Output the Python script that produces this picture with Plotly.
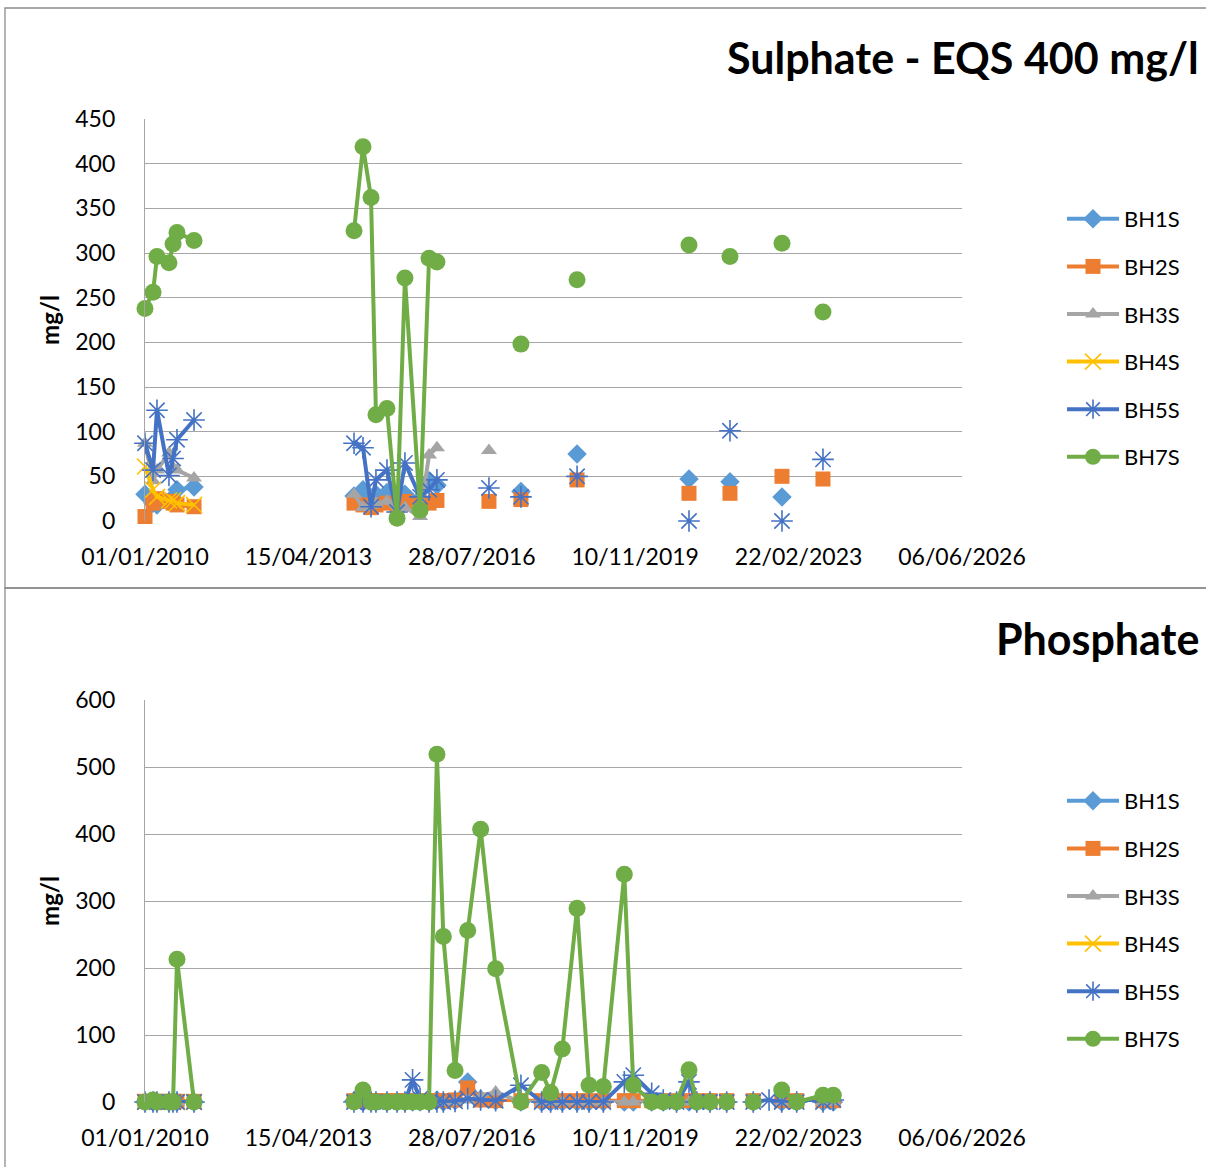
import plotly.graph_objects as go

# ---------------- DATA ----------------
series_names = ["BH1S", "BH2S", "BH3S", "BH4S", "BH5S", "BH7S"]

# Sulphate (blank rows -> None break the lines, as in the source sheet)
sulphate_dates = [
    "2010-01-01", "2010-03-01", "2010-03-30", "2010-06-26", "2010-07-26", "2010-08-24", "2010-12-27",
    "2012-01-01",
    "2014-03-16", "2014-05-21", "2014-07-19", "2014-08-24", "2014-11-13", "2015-01-26", "2015-03-25",
    "2015-07-14", "2015-09-18", "2015-11-15",
    "2016-06-01", "2016-12-01", "2017-03-15", "2017-07-24", "2018-02-01", "2018-09-09",
    "2019-10-01", "2020-12-09", "2021-05-01", "2021-10-06", "2022-04-01", "2022-10-23",
    "2023-03-01", "2023-08-20",
]
sulphate_bh1s = [30, 20, 18, 22, 25, 35, 38, None,
                 28, 35, 25, 30, 32, 20, 30, 25, 45, 40,
                 None, None, None, 33, None, 75, None, 47, None, 44, None, 27, None, None]
sulphate_bh2s = [5, 20, 25, 22, 20, 18, 16, None,
                 20, 18, 15, 18, 20, 17, 22, 18, 20, 23,
                 None, 22, None, 24, None, 46, None, 31, None, 31, None, 50, None, 47]
sulphate_bh3s = [87, 45, 57, 76, 60, 57, 48, None,
                 30, 15, 18, 20, 22, 10, 15, 5, 74, 82,
                 None, 79, None, None, None, None, None, None, None, None, None, None, None, None]
sulphate_bh4s = [61, 35, 27, 23, 23, 20, 18, None,
                 None, None, None, None, None, None, None, None, None, None,
                 None, None, None, None, None, None, None, None, None, None, None, None, None, None]
sulphate_bh5s = [87, 57, 124, 51, 70, 91, 113, None,
                 87, 82, 16, 46, 57, 10, 65, 27, 35, 46,
                 None, 37, None, 27, None, 50, None, 0, None, 101, None, 0, None, 69]
sulphate_bh7s = [238, 256, 296, 289, 310, 323, 314, None,
                 325, 419, 362, 119, 126, 3, 272, 12, 294, 290,
                 None, None, None, 198, None, 270, None, 309, None, 296, None, 311, None, 234]

# Phosphate
phosphate_dates = [
    "2010-01-01", "2010-03-01", "2010-03-30", "2010-06-26", "2010-07-26", "2010-08-24", "2010-12-27",
    "2012-01-01",
    "2014-03-16", "2014-05-21", "2014-07-19", "2014-08-24", "2014-11-13", "2015-01-26", "2015-03-25",
    "2015-05-20", "2015-07-14", "2015-09-18", "2015-11-15",
    "2016-01-01", "2016-03-27", "2016-06-28", "2016-10-01", "2017-01-19", "2017-07-24", "2017-12-23",
    "2018-02-27", "2018-05-24", "2018-09-09", "2018-12-06", "2019-03-21", "2019-08-22", "2019-10-27",
    "2020-03-10", "2020-06-03", "2020-09-09", "2020-12-09", "2021-02-04", "2021-05-12", "2021-09-12",
    "2021-12-31", "2022-03-26", "2022-07-20", "2022-10-21", "2023-02-08", "2023-08-20", "2023-11-04",
]
phosphate_bh1s = [0, 0, 0, 0, 0, 0, 0, None,
                  2, 0, 0, 0, 0, 0, 0, 0, 0, 0, 3,
                  0, 2, 30, 4, 2, 0, 0, 0, 0, 0, 0, 0, 0, 0,
                  0, 0, 0, 0, 0, 0, 0, None, 0, None, 0, 0, 0, 0]
phosphate_bh2s = [1, 1, 1, 1, 1, 1, 1, None,
                  2, 2, 2, 2, 2, 2, 2, 2, 2, 2, 2,
                  2, 3, 21, 3, 2, 2, 2, 2, 2, 2, 2, 2, 2, 2,
                  2, 2, 2, 2, 2, 2, 2, None, 2, None, 2, 2, 2, 2]
phosphate_bh3s = [0, 0, 0, 0, 0, 0, 0, None,
                  1, 0, 0, 0, 0, 0, 0, 0, 0, 0, 0,
                  0, 0, 3, 8, 15, 0, 0, 0, 0, 0, 0, 0, 0, 0,
                  0, 0, 0, 0, 0, 0, 0, None, 0, None, 0, 0, 0, 0]
phosphate_bh4s = [0, 0, 0, 0, 0, 0, 0, None,
                  None, None, None, None, None, None, None, None, None, None, None,
                  None, None, None, None, None, None, None, None, None, None, None, None, None, None,
                  None, None, None, None, None, None, None, None, None, None, None, None, None, None]
phosphate_bh5s = [0, 0, 0, 0, 0, 0, 0, None,
                  0, 0, 0, 0, 0, 0, 0, 33, 5, 0, 0,
                  0, 1, 5, 3, 2, 25, 0, 0, 0, 0, 0, 0, 30, 40,
                  13, 3, 0, 30, 0, 0, 0, None, 0, 3, 0, 0, 0, 3]
phosphate_bh7s = [0, 3, 0, 0, 0, 213, 0, None,
                  0, 18, 0, 0, 0, 0, 0, 0, 0, 0, 519,
                  247, 47, 256, 407, 199, 0, 44, 14, 79, 289, 25, 23, 340, 25,
                  0, 0, 0, 48, 0, 0, 0, None, 0, None, 18, 0, 10, 10]

x_tick_values = ["2010-01-01", "2013-04-15", "2016-07-28", "2019-11-10", "2023-02-22", "2026-06-06"]
x_tick_labels = ["01/01/2010", "15/04/2013", "28/07/2016", "10/11/2019", "22/02/2023", "06/06/2026"]

sulphate_title = "Sulphate - EQS 400 mg/l"
phosphate_title = "Phosphate"
y_title = "mg/l"

# ---------------- STYLE ----------------
W, H = 1206, 1167
FONT = "Lato"
colors = ["#5B9BD5", "#ED7D31", "#A5A5A5", "#FFC000", "#4472C4", "#70AD47"]
symbols = ["diamond", "square", "triangle-up", "x-thin-open", "asterisk-open", "circle"]
sizes = [15, 15, 14, 16, 18, 17]
GRID = "#A6A6A6"

def px(x):
    return x / W

def py(y):
    return 1 - y / H

fig = go.Figure()

sul = [sulphate_bh1s, sulphate_bh2s, sulphate_bh3s, sulphate_bh4s, sulphate_bh5s, sulphate_bh7s]
pho = [phosphate_bh1s, phosphate_bh2s, phosphate_bh3s, phosphate_bh4s, phosphate_bh5s, phosphate_bh7s]

for (dates, data, xa, ya, lg) in [
    (sulphate_dates, sul, "x", "y", "legend"),
    (phosphate_dates, pho, "x2", "y2", "legend2"),
]:
    for i, name in enumerate(series_names):
        open_sym = symbols[i].endswith("open")
        fig.add_trace(go.Scatter(
            x=dates, y=data[i], name=name, mode="lines+markers",
            xaxis=xa, yaxis=ya, legend=lg, legendgroup=lg + name,
            connectgaps=False, cliponaxis=False,
            line=dict(color=colors[i], width=4),
            marker=dict(symbol=symbols[i], size=sizes[i], color=colors[i],
                        line=dict(color=colors[i], width=1.6 if open_sym else 0)),
        ))

x_left, x_right = px(145), px(962)
common_x = dict(
    type="date", range=["2010-01-01", "2026-06-06"], tickmode="array",
    tickvals=x_tick_values, ticktext=x_tick_labels, showgrid=False, showline=False,
    zeroline=False, ticks="", tickfont=dict(family=FONT, size=23, color="#000000"),
    ticklabelstandoff=20, domain=[x_left, x_right], automargin=False,
)
common_y = dict(
    showgrid=True, gridcolor=GRID, gridwidth=1.3, showline=True, linecolor=GRID, linewidth=1.3,
    zeroline=False, ticks="", tickfont=dict(family=FONT, size=23, color="#000000"),
    ticklabelstandoff=24, automargin=False,
    title=dict(text="<b>" + y_title + "</b>", font=dict(family=FONT, size=24, color="#000000"), standoff=8),
)

legend_common = dict(xanchor="left", yanchor="middle",
                     font=dict(family=FONT, size=22, color="#000000"), tracegroupgap=16,
                     bgcolor="rgba(0,0,0,0)", itemwidth=52)

fig.update_layout(
    width=W, height=H, margin=dict(l=0, r=0, t=0, b=0, autoexpand=False),
    paper_bgcolor="white", plot_bgcolor="white",
    xaxis=dict(common_x, anchor="y"),
    yaxis=dict(common_y, range=[0, 450], dtick=50, domain=[py(521), py(119)], anchor="x"),
    xaxis2=dict(common_x, anchor="y2"),
    yaxis2=dict(common_y, range=[0, 600], dtick=100, domain=[py(1102), py(700)], anchor="x2"),
    legend=dict(legend_common, x=px(1062), y=py(338)),
    legend2=dict(legend_common, x=px(1062), y=py(920)),
    showlegend=True,
    annotations=[
        dict(text="<b>" + sulphate_title + "</b>", x=px(1201), y=py(58), xref="paper", yref="paper",
             xanchor="right", yanchor="middle", showarrow=False,
             font=dict(family=FONT, size=43, color="#000000")),
        dict(text="<b>" + phosphate_title + "</b>", x=px(1201), y=py(638), xref="paper", yref="paper",
             xanchor="right", yanchor="middle", showarrow=False,
             font=dict(family=FONT, size=43, color="#000000")),
    ],
    shapes=[
        dict(type="rect", xref="paper", yref="paper", x0=px(5), x1=px(1215), y0=py(588), y1=py(8),
             line=dict(color="#8C8C8C", width=1.3), fillcolor="rgba(0,0,0,0)"),
        dict(type="rect", xref="paper", yref="paper", x0=px(5), x1=px(1215), y0=py(1175), y1=py(588),
             line=dict(color="#8C8C8C", width=1.3), fillcolor="rgba(0,0,0,0)"),
    ],
)

fig.write_html("out.html", config={"displayModeBar": False},
               post_script="document.body.style.margin='0';document.body.style.overflow='hidden';")
